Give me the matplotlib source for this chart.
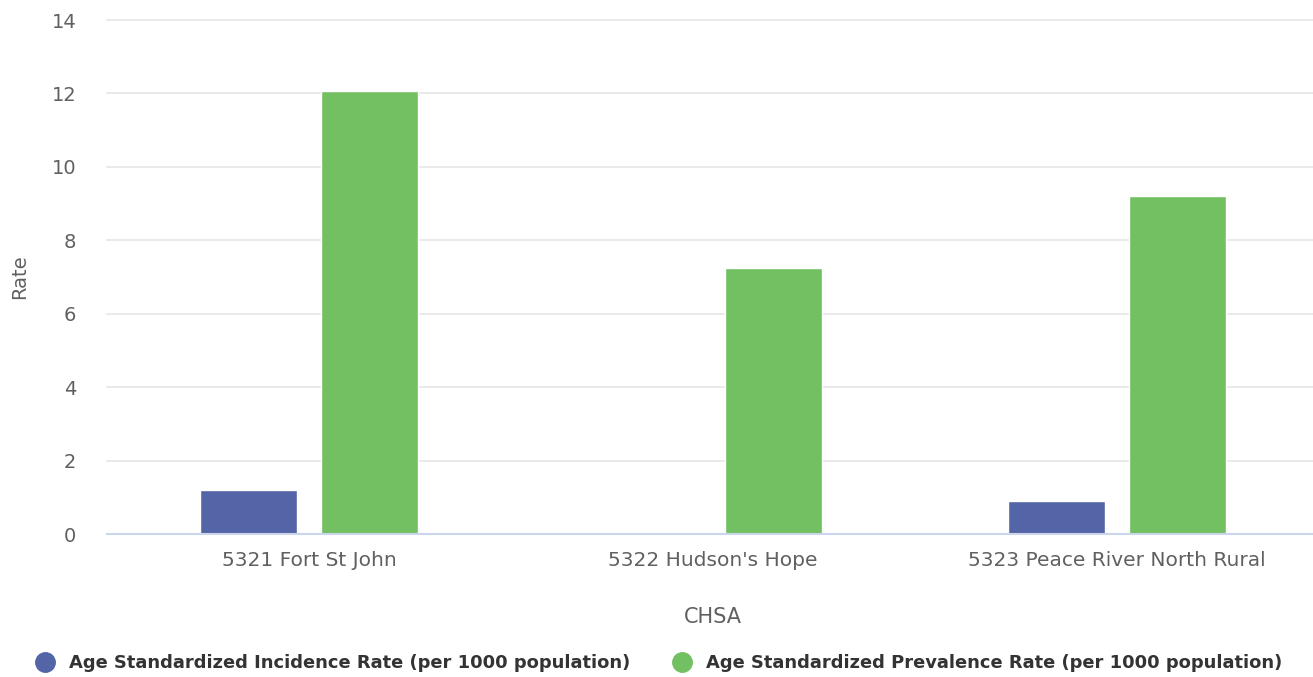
import numpy as np
import matplotlib.pyplot as plt
from matplotlib.lines import Line2D

plt.rcParams['font.family'] = ['DejaVu Sans']

categories = ["5321 Fort St John", "5322 Hudson's Hope", "5323 Peace River North Rural"]
incidence = [1.20, np.nan, 0.90]
prevalence = [12.06, 7.25, 9.21]

blue = '#5364a7'
green = '#73c062'

fig = plt.figure(figsize=(13.13, 6.77), dpi=100)
ax = fig.add_axes([107/1313, 1-534/677, 1-107/1313, (534-20)/677])

x = np.arange(len(categories))
w = 0.24
ax.bar(x - 0.15, incidence, w, color=blue, edgecolor='white', linewidth=1, zorder=3)
ax.bar(x + 0.15, prevalence, w, color=green, edgecolor='white', linewidth=1, zorder=3)

ax.set_xlim(-0.5, 2.485)
ax.set_ylim(0, 14)
ax.set_yticks(range(0, 15, 2))
ax.set_xticks(x)
ax.set_xticklabels(categories, fontsize=14.5, color='#606060')
ax.tick_params(axis='y', labelsize=14, labelcolor='#606060', length=0, pad=22)
ax.tick_params(axis='x', length=0, pad=12)

ax.grid(axis='y', color='#e6e6e6', linewidth=1.2, zorder=0)
for gl in ax.get_ygridlines():
    gl.set_clip_on(False)
for s in ['top', 'right', 'left']:
    ax.spines[s].set_visible(False)
ax.spines['bottom'].set_color('#ccd6eb')
ax.spines['bottom'].set_linewidth(1.5)
ax.spines['bottom'].set_zorder(4)

fig.text(20/1313, 1-277/677, 'Rate', rotation=90, fontsize=14, color='#606060',
         ha='center', va='center')
fig.text(713/1313, 1-617/677, 'CHSA', fontsize=15, color='#606060',
         ha='center', va='center')

handles = [Line2D([], [], marker='o', linestyle='', markersize=14, color=blue),
           Line2D([], [], marker='o', linestyle='', markersize=14, color=green)]
labels = ['Age Standardized Incidence Rate (per 1000 population)',
          'Age Standardized Prevalence Rate (per 1000 population)']
fig.legend(handles, labels, loc='center', bbox_to_anchor=(659/1313, 1-663/677), ncol=2,
           frameon=False, prop={'size': 12.85, 'weight': 'bold'}, labelcolor='#333333',
           handletextpad=0.85, columnspacing=2.4, handlelength=1.0)

fig.savefig('out.png', dpi=100)
